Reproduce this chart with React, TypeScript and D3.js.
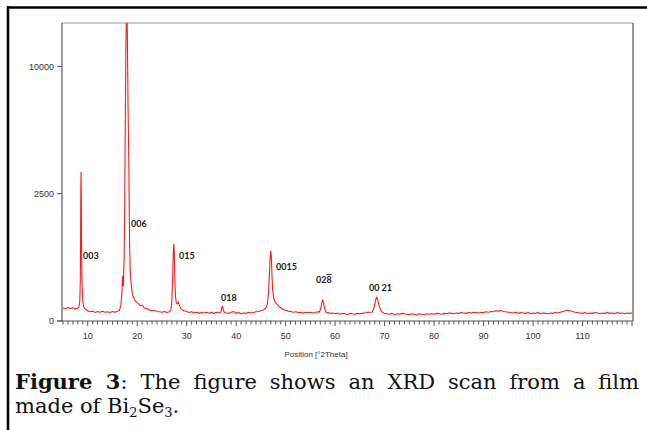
import React, { useEffect, useRef } from 'react';
import * as d3 from 'd3';

const W = 647;
const H = 430;

// background counts, every 0.5 deg from 5 to 120 (points inside a peak window are replaced)
const bgStart = 5;
const bgStep = 0.5;
const background = [
  26, 22, 28, 24, 27, 21, 25, 22, 40, 22,
  16, 13, 15, 11, 14, 12, 15, 12, 13, 11,
  14, 12, 15, 13, 16, 20, 60, 900, 14000, 500,
  45, 38, 34, 28, 22, 24, 19, 17, 14, 13,
  12, 14, 11, 13, 15, 15, 600, 80, 40, 16,
  14, 11, 13, 10, 12, 9, 11, 10, 12, 9,
  11, 9, 12, 10, 30, 20, 10, 9, 12, 14,
  9, 11, 8, 10, 9, 12, 10, 11, 13, 14,
  16, 19, 60, 700, 60, 35, 28, 22, 18, 20,
  18, 15, 14, 12, 13, 11, 12, 10, 12, 11,
  12, 10, 11, 13, 40, 60, 11, 11, 9, 10,
  8, 10, 7, 9, 8, 6, 9, 8, 7, 9,
  8, 9, 10, 11, 12, 50, 80, 30, 12, 9,
  9, 8, 7, 9, 6, 8, 7, 9, 8, 7,
  6, 8, 7, 5, 8, 7, 6, 8, 7, 8,
  7, 9, 8, 7, 9, 8, 10, 9, 8, 10,
  9, 11, 10, 9, 11, 10, 12, 11, 10, 12,
  11, 13, 12, 14, 13, 16, 15, 17, 14, 13,
  12, 11, 10, 12, 9, 11, 10, 9, 11, 8,
  10, 9, 11, 8, 10, 9, 8, 10, 9, 11,
  10, 12, 14, 16, 18, 16, 14, 12, 11, 10,
  9, 11, 8, 10, 9, 11, 10, 8, 10, 9,
  11, 9, 10, 8, 11, 9, 10, 8, 10, 9,
  10,
];

// [2theta, counts]
const peak003 = [
  [8.2, 30], [8.4, 60], [8.5, 250], [8.55, 900], [8.6, 2600], [8.65, 3425],
  [8.7, 2400], [8.75, 900], [8.8, 400], [8.9, 150], [9.0, 60], [9.2, 30],
];
const peak006 = [
  [16.4, 18], [16.7, 35], [16.9, 120], [17.05, 312], [17.2, 190], [17.35, 600],
  [17.45, 1500], [17.55, 4500], [17.7, 11000], [17.85, 16000], [18.0, 13000],
  [18.15, 7000], [18.3, 4000], [18.45, 1000], [18.6, 380], [18.8, 200],
  [19.0, 120], [19.2, 90], [19.5, 70], [19.8, 55], [20.2, 48], [20.6, 36],
  [21.0, 38], [21.5, 26], [22.0, 24], [22.5, 18], [23.0, 17],
];
const peak015 = [
  [26.8, 18], [27.0, 60], [27.15, 250], [27.3, 750], [27.4, 914], [27.5, 700],
  [27.6, 250], [27.75, 90], [27.9, 50], [28.1, 45], [28.3, 57], [28.5, 40],
  [28.8, 25], [29.2, 18],
];
const peak018 = [[36.9, 12], [37.1, 25], [37.2, 35], [37.35, 22], [37.6, 12]];
const peak0015 = [
  [45.8, 22], [46.1, 30], [46.3, 45], [46.5, 100], [46.7, 300], [46.85, 600],
  [47.0, 756], [47.1, 650], [47.25, 300], [47.4, 140], [47.6, 80], [47.8, 60],
  [48.1, 48], [48.4, 40], [48.8, 30], [49.2, 24], [49.5, 20],
];
const peak028 = [[56.8, 12], [57.1, 25], [57.35, 55], [57.5, 68], [57.7, 45], [57.9, 22], [58.2, 12]];
const peak0021 = [[67.5, 12], [67.9, 30], [68.2, 70], [68.4, 89], [68.6, 70], [68.9, 35], [69.3, 15], [69.8, 10]];

const peaks = [peak003, peak006, peak015, peak018, peak0015, peak028, peak0021];

// reflection labels: text, 2theta of left edge, counts at baseline
const labelText = ['003', '006', '015', '018', '0015', '028', '00 21'];
const labelPos = [9.04, 18.74, 28.45, 36.93, 48.05, 56.13, 66.84];
const labelCounts = [593, 1363, 593, 64, 401, 223, 139];

const yTicks = [0, 2500, 10000];
const xTickLabels = [10, 20, 30, 40, 50, 60, 70, 80, 90, 100, 110];

const plot = { left: 62, right: 633, top: 23, bottom: 321 };

export default function App() {
  const line1Ref = useRef<SVGTextElement>(null);

  const x = d3.scaleLinear().domain([4.8, 120.2]).range([plot.left, plot.right]);
  const y = d3.scaleSqrt().domain([0, 13700]).range([plot.bottom, plot.top]);

  const windows = peaks.map((p) => [p[0][0], p[p.length - 1][0]]);
  const bgPoints = background
    .map((c, i) => [bgStart + i * bgStep, c])
    .filter((d) => !windows.some((w) => d[0] >= w[0] && d[0] <= w[1]));
  const trace = [...bgPoints, ...peaks.flat()].sort((a, b) => a[0] - b[0]);

  const line = d3
    .line<number[]>()
    .x((d) => x(d[0]))
    .y((d) => y(d[1]));

  const minorTicks = d3.range(5, 121, 1);

  useEffect(() => {
    const t = line1Ref.current;
    if (!t) return;
    t.setAttribute('word-spacing', '0');
    const len = t.getComputedTextLength();
    const extra = Math.max(0, (624 - len) / 10);
    t.setAttribute('word-spacing', String(extra));
  }, []);

  const sans = 'Liberation Sans, Arial, sans-serif';
  const serif = 'DejaVu Serif, serif';

  return (
    <div style={{ position: 'fixed', left: 0, top: 0 }}>
      <svg width={W} height={H} style={{ display: 'block', background: '#fff' }}>
        <defs>
          <clipPath id="plotClip">
            <rect x={plot.left} y={plot.top} width={plot.right - plot.left} height={plot.bottom - plot.top} />
          </clipPath>
        </defs>

        {/* outer frame */}
        <line x1={7} x2={W} y1={7.5} y2={7.5} stroke="#000" strokeWidth={2.5} />
        <line x1={8} x2={8} y1={6} y2={H} stroke="#000" strokeWidth={2.5} />

        {/* plot frame */}
        <line x1={plot.left} x2={plot.right} y1={plot.top} y2={plot.top} stroke="#999" strokeWidth={1.2} />
        <line x1={plot.right} x2={plot.right} y1={plot.top} y2={plot.bottom} stroke="#333" strokeWidth={1} />

        {/* trace */}
        <path
          d={line(trace) || ''}
          fill="none"
          stroke="#ff1a1a"
          strokeWidth={1.1}
          strokeLinejoin="round"
          clipPath="url(#plotClip)"
        />

        {/* y axis */}
        <line x1={plot.left} x2={plot.left} y1={plot.top} y2={plot.bottom} stroke="#555" strokeWidth={1.2} />
        {yTicks.map((t) => (
          <g key={t}>
            <line x1={plot.left - 5} x2={plot.left} y1={y(t)} y2={y(t)} stroke="#555" strokeWidth={1} />
            <text x={plot.left - 8} y={y(t)} dy="0.35em" textAnchor="end" fontFamily={sans} fontSize={9} fill="#333">
              {t}
            </text>
          </g>
        ))}

        {/* x axis */}
        <line x1={plot.left - 5} x2={plot.right} y1={plot.bottom} y2={plot.bottom} stroke="#555" strokeWidth={1.2} />
        {minorTicks.map((t) => (
          <line
            key={t}
            x1={x(t)}
            x2={x(t)}
            y1={plot.bottom}
            y2={plot.bottom + (t % 10 === 0 ? 5 : 3.5)}
            stroke="#555"
            strokeWidth={1}
          />
        ))}
        {xTickLabels.map((t) => (
          <text key={t} x={x(t)} y={plot.bottom + 15} dy="0.35em" textAnchor="middle" fontFamily={sans} fontSize={9} fill="#333">
            {t}
          </text>
        ))}
        <text x={316} y={354} dy="0.35em" textAnchor="middle" fontFamily={sans} fontSize={8} fill="#333">
          Position [°2Theta]
        </text>

        {/* reflection labels */}
        {labelText.map((s, i) => (
          <text
            key={s}
            x={x(labelPos[i])}
            y={y(labelCounts[i])}
            fontFamily="Lato, sans-serif"
            fontWeight="bold"
            fontSize={9}
            fill="#222"
          >
            {s === '028' ? (
              <>
                02<tspan style={{ textDecoration: 'overline' }}>8</tspan>
              </>
            ) : (
              s
            )}
          </text>
        ))}

        {/* caption */}
        <text ref={line1Ref} x={15} y={389} fontFamily={serif} fontSize={21} fill="#111">
          <tspan fontWeight="bold">Figure 3</tspan>: The figure shows an XRD scan from a film
        </text>
        <text x={15} y={413} fontFamily={serif} fontSize={21} fill="#111">
          made of Bi<tspan fontSize={13} dy={4}>2</tspan>
          <tspan dy={-4}>Se</tspan>
          <tspan fontSize={13} dy={4}>3</tspan>
          <tspan dy={-4}>.</tspan>
        </text>
      </svg>
    </div>
  );
}
